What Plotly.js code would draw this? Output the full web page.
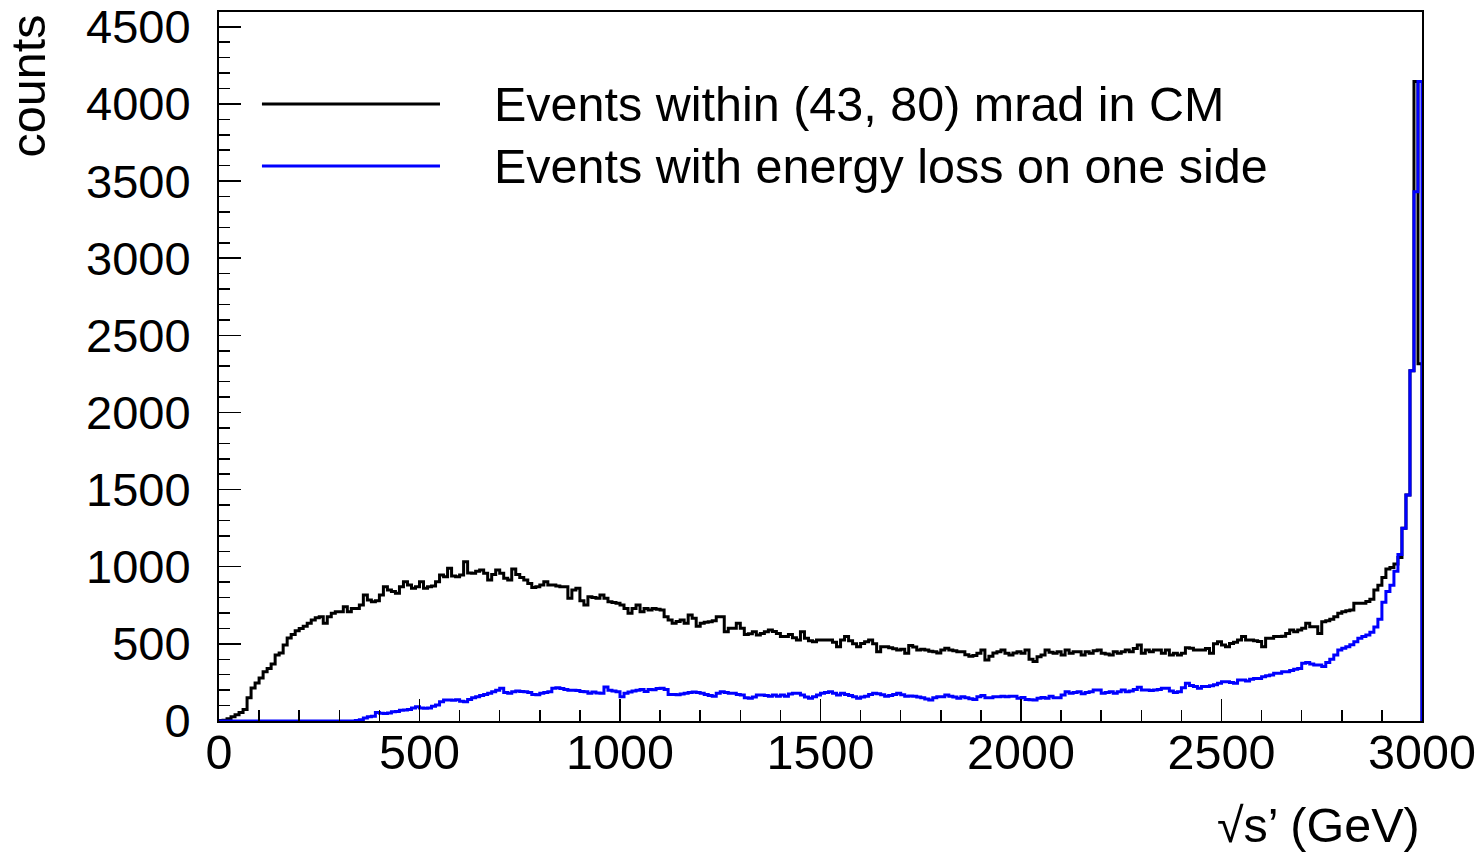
<!DOCTYPE html>
<html>
<head>
<meta charset="utf-8">
<script src="https://cdn.plot.ly/plotly-3.0.1.min.js"></script>
<style>
html,body{margin:0;padding:0;background:#fff;}
#chart{width:1477px;height:855px;}
</style>
</head>
<body>
<div id="chart"></div>
<script>
// ---- data: counts per 10 GeV bin ----
const binWidth = 10; // GeV
const xMax = 3000;

// Events within (43, 80) mrad in CM  (black)
const black_0_500 = [3,5,15,28,40,55,75,150,214,246, 279,320,340,370,428,441,493,538,560,585,
  600,615,633,655,670,676,633,676,698,709, 709,741,709,730,730,752,817,784,773,780,
  817,871,849,840,828,871,903,882,860,870];
const black_500_1000 = [903,860,871,875,903,946,935,990,940,935, 946,1033,960,957,970,979,957,914,950,979,
  957,925,914,985,950,930,914,892,865,870, 882,903,882,882,875,871,871,795,850,860,
  780,752,806,800,795,817,795,773,768,763];
const black_1000_1500 = [752,730,698,730,752,709,730,720,730,725, 720,676,655,633,645,655,633,687,666,615,
  633,640,644,650,676,676,579,601,601,633, 601,560,565,579,557,568,579,590,580,568,
  547,547,560,540,525,579,536,520,514,525];
const black_1500_2000 = [525,525,525,510,482,525,547,520,500,482, 503,514,525,500,449,482,482,475,468,460,
  465,439,490,480,460,465,460,452,449,440, 460,471,460,455,449,449,430,420,425,439,
  460,395,420,440,449,460,439,428,440,449];
const black_2000_2500 = [439,460,400,385,417,428,460,445,439,449, 428,460,439,449,449,428,449,439,455,460,
  439,435,428,449,439,449,460,449,470,493, 439,460,449,460,460,439,460,428,439,428,
  439,475,471,460,460,460,470,439,500,514];
const black_2500_3000 = [493,482,503,510,525,547,525,525,520,515, 482,536,536,547,547,550,568,590,579,590,
  601,633,611,611,568,644,650,660,676,698, 709,715,720,763,763,763,775,790,849,880,
  930,985,995,1017,1060,1250,1465,2270,4145,2316];

// Events with energy loss on one side  (blue)
const blue_0_500 = [0,0,0,0,0,0,0,0,0,0, 0,0,0,0,0,0,0,0,0,0,
  0,0,0,0,0,0,0,0,0,0, 0,0,0,0,3,8,20,28,30,55,
  50,48,52,60,62,70,72,75,84,93];
const blue_500_1000 = [85,82,84,95,104,125,136,136,135,138, 128,125,140,150,158,165,172,180,190,200,
  212,185,180,190,195,192,190,185,172,170, 180,185,190,212,215,210,205,200,200,198,
  192,190,180,188,182,180,220,200,195,190];
const blue_1000_1500 = [158,180,188,195,200,205,192,205,203,210, 212,205,172,172,170,175,180,185,188,185,
  180,172,165,160,180,190,185,180,180,172, 169,150,147,155,169,169,165,160,169,160,
  169,160,175,180,180,169,155,147,158,169];
const blue_1500_2000 = [180,185,190,180,169,180,172,165,158,147, 155,160,172,180,176,170,160,165,172,180,
  170,160,162,160,155,150,142,136,150,158, 158,169,160,155,147,158,150,145,140,158,
  165,150,150,158,158,160,158,160,160,147];
const blue_2000_2500 = [152,140,138,136,147,152,147,160,150,150, 169,190,180,185,190,176,185,190,201,201,
  180,185,190,180,190,201,190,195,205,218, 201,201,198,201,205,212,212,195,185,190,
  215,244,230,223,212,223,223,228,235,244];
const blue_2500_3000 = [255,255,250,244,266,266,260,270,276,276, 287,293,298,309,309,320,320,328,335,341,
  374,380,370,363,363,353,380,400,428,460, 471,482,495,514,536,547,557,575,610,660,
  770,840,880,970,1080,1250,1465,2270,3430,4145];

const yTicks = [0,500,1000,1500,2000,2500,3000,3500,4000,4500];
const xTicks = [0,500,1000,1500,2000,2500,3000];
const seriesNames = ['Events within (43, 80) mrad in CM', 'Events with energy loss on one side'];
const xTitle = '\u221As\u2019 (GeV)';
const yTitle = 'counts';

// ---- build step outlines from the bin counts ----
function stepTrace(counts, color, name){
  const xs = [0], ys = [0];
  counts.forEach((c,i)=>{ xs.push(i*binWidth); ys.push(c); });
  xs.push(counts.length*binWidth); ys.push(counts[counts.length-1]);
  xs.push(counts.length*binWidth); ys.push(0);
  return {type:'scatter', mode:'lines', x:xs, y:ys, name:name,
          line:{shape:'hv', color:color, width:3}, showlegend:false, hoverinfo:'skip'};
}
const blackCounts = [].concat(black_0_500,black_500_1000,black_1000_1500,black_1500_2000,black_2000_2500,black_2500_3000);
const blueCounts = [].concat(blue_0_500,blue_500_1000,blue_1000_1500,blue_1500_2000,blue_2000_2500,blue_2500_3000);

const traces = [stepTrace(blackCounts,'#000000',seriesNames[0]), stepTrace(blueCounts,'#0000ff',seriesNames[1])];

const FONT = 'Liberation Sans, Arial, Helvetica, sans-serif';
const FS = 48.5;
const layout = {
  width:1477, height:855,
  margin:{l:219, r:55, t:12, b:134},
  paper_bgcolor:'#fff', plot_bgcolor:'#fff',
  font:{family:FONT, size:FS, color:'#000'},
  xaxis:{range:[0,xMax], tickvals:xTicks, ticktext:xTicks.map(String),
    ticks:'inside', ticklen:22, tickwidth:1.5, tickcolor:'#000',
    showline:true, linecolor:'#000', linewidth:2, mirror:true,
    showgrid:false, zeroline:false, ticklabelstandoff:-12,
    minor:{dtick:100, ticks:'inside', ticklen:11, tickwidth:1.5, tickcolor:'#000', showgrid:false},
    tickfont:{family:FONT, size:FS, color:'#000'}},
  yaxis:{range:[0,4596], tickvals:yTicks, ticktext:yTicks.map(String),
    ticks:'inside', ticklen:22, tickwidth:1.5, tickcolor:'#000',
    showline:true, linecolor:'#000', linewidth:2, mirror:true,
    showgrid:false, zeroline:false, ticklabelstandoff:17,
    minor:{dtick:100, ticks:'inside', ticklen:11, tickwidth:1.5, tickcolor:'#000', showgrid:false},
    tickfont:{family:FONT, size:47, color:'#000'}},
  showlegend:false,
  shapes:[
    {type:'line', xref:'paper', yref:'paper', x0:0.0357, x1:0.1837, y0:0.8702, y1:0.8702, line:{color:'#000', width:3}},
    {type:'line', xref:'paper', yref:'paper', x0:0.0357, x1:0.1837, y0:0.7828, y1:0.7828, line:{color:'#0000ff', width:3}}
  ],
  annotations:[
    {xref:'paper', yref:'paper', x:0.2269, y:0.8702, xanchor:'left', yanchor:'middle', showarrow:false,
     text:seriesNames[0], font:{family:FONT, size:48.5, color:'#000'}},
    {xref:'paper', yref:'paper', x:0.2269, y:0.7828, xanchor:'left', yanchor:'middle', showarrow:false,
     text:seriesNames[1], font:{family:FONT, size:48.5, color:'#000'}},
    {xref:'paper', yref:'paper', x:1.0, y:-0.147, xanchor:'right', yanchor:'middle', showarrow:false,
     text:xTitle, font:{family:FONT, size:FS, color:'#000'}},
    {xref:'paper', yref:'paper', x:-0.1588, y:1.0, xanchor:'center', yanchor:'top', showarrow:false, textangle:-90,
     text:yTitle, font:{family:FONT, size:FS, color:'#000'}}
  ]
};
Plotly.newPlot('chart', traces, layout, {staticPlot:true, displayModeBar:false});
</script>
</body>
</html>
